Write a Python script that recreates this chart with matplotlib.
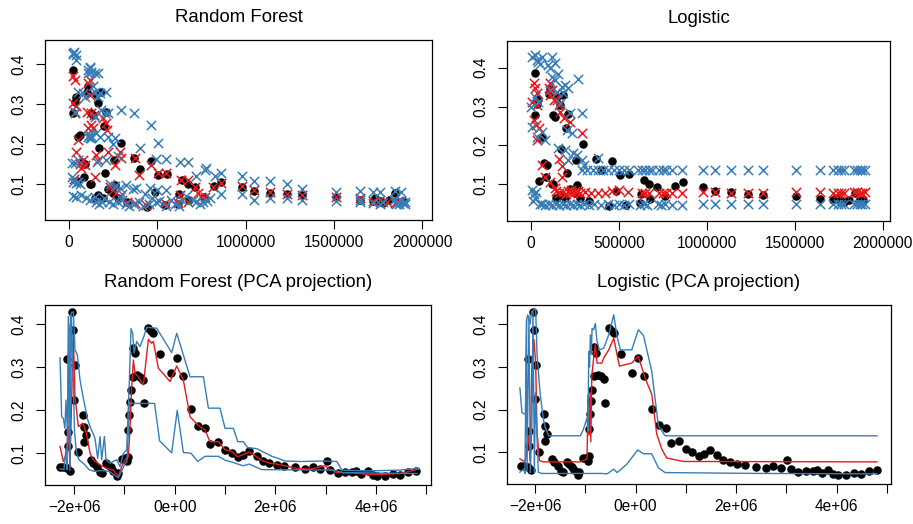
import matplotlib
matplotlib.use("Agg")
import matplotlib.pyplot as plt
import numpy as np

plt.rcParams['font.family'] = ['Liberation Sans', 'DejaVu Sans']

RED = '#E41A1C'
BLUE = '#377EB8'

# ---- top panels: observed error vs size (millions) ----
obs_size = [0.020, 0.022, 0.040, 0.036, 0.051, 0.060, 0.045, 0.085, 0.104, 0.110, 0.127, 0.117,
            0.164, 0.170, 0.198, 0.202, 0.208, 0.255, 0.293, 0.330, 0.368, 0.400, 0.463, 0.444,
            0.504, 0.557, 0.485, 0.542, 0.640, 0.674, 0.623, 0.618, 0.678, 0.716, 0.765, 0.820,
            0.863, 0.980, 1.045, 1.140, 1.235, 1.320, 1.510, 1.645, 1.720, 1.735, 1.760, 1.780,
            1.810, 1.845, 1.865, 1.890, 0.164, 0.193, 0.221, 0.249, 0.278, 0.127, 0.145, 0.075,
            0.090, 0.135, 0.150, 0.180, 0.260]
obs_err = [0.387, 0.278, 0.319, 0.306, 0.219, 0.223, 0.108, 0.119, 0.332, 0.346, 0.279, 0.102,
           0.303, 0.190, 0.246, 0.128, 0.282, 0.162, 0.204, 0.057, 0.165, 0.138, 0.159, 0.044,
           0.123, 0.127, 0.082, 0.048, 0.111, 0.101, 0.076, 0.052, 0.061, 0.094, 0.069, 0.096,
           0.105, 0.093, 0.083, 0.079, 0.075, 0.073, 0.069, 0.062, 0.059, 0.065, 0.059, 0.054,
           0.060, 0.078, 0.057, 0.059, 0.073, 0.065, 0.088, 0.078, 0.065, 0.101, 0.065, 0.155,
           0.150, 0.274, 0.325, 0.330, 0.098]

rf_pred_size = [0.023, 0.032, 0.023, 0.042, 0.032, 0.051, 0.042, 0.028, 0.079, 0.089, 0.108, 0.117,
                0.121, 0.127, 0.140, 0.127, 0.136, 0.155, 0.164, 0.193, 0.212, 0.217, 0.221, 0.259,
                0.287, 0.293, 0.372, 0.397, 0.463, 0.504, 0.551, 0.636, 0.674, 0.712, 0.769, 0.816,
                0.863, 0.980, 1.045, 1.140, 1.235, 1.320, 1.510, 1.645, 1.720, 1.760, 1.800, 1.845,
                1.865, 0.145, 0.230, 0.249, 0.268, 0.287, 0.330, 0.376, 0.438, 0.542, 0.618, 0.627,
                0.674, 0.731, 0.750, 0.060, 0.070, 0.100, 0.110]
rf_pred_err = [0.371, 0.362, 0.304, 0.296, 0.279, 0.211, 0.182, 0.113, 0.161, 0.148, 0.353, 0.361,
               0.323, 0.278, 0.273, 0.248, 0.240, 0.173, 0.161, 0.265, 0.253, 0.236, 0.182, 0.148,
               0.182, 0.165, 0.165, 0.123, 0.148, 0.128, 0.129, 0.111, 0.111, 0.094, 0.069, 0.094,
               0.103, 0.096, 0.086, 0.082, 0.076, 0.073, 0.069, 0.065, 0.059, 0.061, 0.057, 0.053,
               0.059, 0.119, 0.094, 0.086, 0.078, 0.069, 0.057, 0.053, 0.048, 0.053, 0.053, 0.073,
               0.057, 0.078, 0.069, 0.150, 0.140, 0.280, 0.240]

rf_band_size = [0.020, 0.030, 0.038, 0.042, 0.025, 0.108, 0.117, 0.127, 0.145, 0.164, 0.108, 0.120,
                0.051, 0.079, 0.145, 0.174, 0.212, 0.164, 0.089, 0.135, 0.202, 0.221, 0.293, 0.368,
                0.145, 0.032, 0.180, 0.108, 0.112, 0.117, 0.122, 0.127, 0.174, 0.155, 0.221, 0.259,
                0.463, 0.504, 0.400, 0.250, 0.032, 0.019, 0.050, 0.160, 0.210, 0.280, 0.495, 0.551,
                0.627, 0.674, 0.774, 0.770, 0.825, 0.863, 0.720, 0.980, 1.045, 1.140, 1.235, 1.320,
                1.510, 1.645, 1.720, 1.760, 1.845, 1.880, 0.017, 0.023, 0.042, 0.051, 0.023, 0.042,
                0.070, 0.060, 0.095, 0.120, 0.145, 0.155, 0.170, 0.185, 0.200, 0.225, 0.250, 0.275,
                0.300, 0.320, 0.340, 0.370, 0.395, 0.420, 0.450, 0.470, 0.490, 0.510, 0.550, 0.580,
                0.600, 0.625, 0.640, 0.660, 0.700, 0.720, 0.740, 0.760, 0.780, 0.800, 0.860, 0.980,
                1.045, 1.140, 1.235, 1.320, 1.510, 1.645, 1.645, 1.720, 1.760, 1.780, 1.840, 1.850,
                1.860, 1.870, 1.880, 1.890, 1.900, 1.900, 0.260, 0.290, 0.320, 0.360, 0.380, 0.430,
                0.460, 0.500, 0.550, 0.300, 0.230]
rf_band_err = [0.428, 0.430, 0.424, 0.411, 0.426, 0.386, 0.390, 0.382, 0.378, 0.378, 0.378, 0.393,
               0.332, 0.328, 0.332, 0.328, 0.332, 0.318, 0.319, 0.345, 0.278, 0.279, 0.286, 0.279,
               0.269, 0.282, 0.285, 0.219, 0.223, 0.215, 0.221, 0.217, 0.219, 0.228, 0.219, 0.217,
               0.248, 0.203, 0.190, 0.200, 0.153, 0.153, 0.160, 0.155, 0.160, 0.170, 0.163, 0.163,
               0.157, 0.157, 0.140, 0.135, 0.121, 0.128, 0.122, 0.122, 0.109, 0.109, 0.101, 0.088,
               0.082, 0.084, 0.082, 0.082, 0.083, 0.082, 0.119, 0.107, 0.103, 0.107, 0.070, 0.069,
               0.073, 0.100, 0.065, 0.060, 0.068, 0.056, 0.052, 0.056, 0.065, 0.056, 0.052, 0.056,
               0.060, 0.052, 0.045, 0.052, 0.055, 0.045, 0.050, 0.065, 0.055, 0.058, 0.045, 0.060,
               0.050, 0.045, 0.060, 0.072, 0.060, 0.055, 0.052, 0.055, 0.058, 0.065, 0.075, 0.075,
               0.061, 0.065, 0.065, 0.062, 0.059, 0.057, 0.062, 0.054, 0.052, 0.056, 0.060, 0.052,
               0.056, 0.050, 0.058, 0.053, 0.055, 0.050, 0.095, 0.090, 0.098, 0.088, 0.090, 0.075,
               0.092, 0.085, 0.085, 0.075, 0.100]

lg_pred_size = [0.015, 0.024, 0.032, 0.006, 0.034, 0.015, 0.030, 0.044, 0.034, 0.063, 0.082, 0.110,
                0.100, 0.120, 0.110, 0.129, 0.148, 0.157, 0.167, 0.186, 0.290, 0.224, 0.157, 0.176,
                0.176, 0.110, 0.138, 0.140, 0.160, 0.180, 0.200, 0.220, 0.240, 0.260, 0.280, 0.310,
                0.340, 0.380, 0.420, 0.460, 0.500, 0.550, 0.630, 0.650, 0.670, 0.730, 0.750, 0.770,
                0.800, 0.860, 0.980, 1.045, 1.140, 1.235, 1.320, 1.510, 1.645, 1.720, 1.745, 1.765,
                1.780, 1.840, 1.855, 1.870, 1.885, 1.900, 0.210, 0.230, 0.250, 0.270]
lg_pred_err = [0.360, 0.347, 0.334, 0.313, 0.304, 0.265, 0.253, 0.244, 0.214, 0.150, 0.120, 0.360,
               0.347, 0.343, 0.330, 0.317, 0.317, 0.304, 0.287, 0.270, 0.233, 0.261, 0.164, 0.147,
               0.120, 0.107, 0.090, 0.082, 0.078, 0.079, 0.076, 0.078, 0.077, 0.080, 0.077, 0.079,
               0.077, 0.078, 0.078, 0.082, 0.086, 0.080, 0.078, 0.078, 0.077, 0.078, 0.077, 0.078,
               0.078, 0.078, 0.079, 0.079, 0.078, 0.077, 0.077, 0.080, 0.079, 0.078, 0.078, 0.078,
               0.078, 0.079, 0.079, 0.078, 0.078, 0.079, 0.083, 0.085, 0.082, 0.083]

lg_band_size = [0.004, 0.023, 0.042, 0.032, 0.061, 0.050, 0.118, 0.099, 0.108, 0.136, 0.118, 0.136,
                0.155, 0.108, 0.174, 0.193, 0.212, 0.269, 0.165, 0.184, 0.146, 0.000, 0.023, 0.042,
                0.004, 0.032, 0.061, 0.080, 0.222, 0.288, 0.203, 0.231, 0.155, 0.193, 0.241, 0.260,
                0.212, 0.288, 0.383, 0.300,
                0.290, 0.320, 0.350, 0.380, 0.410, 0.440, 0.470, 0.500, 0.530, 0.560, 0.610, 0.630,
                0.650, 0.670, 0.690, 0.730, 0.750, 0.770, 0.800, 0.860, 0.980, 1.045, 1.140, 1.235,
                1.320, 1.510, 1.645, 1.720, 1.745, 1.765, 1.780, 1.840, 1.855, 1.870, 1.885, 1.900,
                0.004, 0.015, 0.025, 0.010, 0.030, 0.050, 0.060, 0.080, 0.100, 0.120, 0.140, 0.160,
                0.180, 0.200, 0.220, 0.240, 0.260, 0.280, 0.300, 0.330, 0.360, 0.400, 0.440, 0.470,
                0.500, 0.530, 0.560, 0.620, 0.640, 0.660, 0.720, 0.740, 0.760, 0.800, 0.860, 0.980,
                1.045, 1.140, 1.235, 1.320, 1.510, 1.645, 1.720, 1.745, 1.765, 1.780, 1.840, 1.855,
                1.870, 1.885, 1.900]
lg_band_err = [0.428, 0.433, 0.415, 0.420, 0.428, 0.410, 0.428, 0.407, 0.398, 0.411, 0.377, 0.368,
               0.385, 0.342, 0.351, 0.355, 0.347, 0.372, 0.308, 0.334, 0.338, 0.300, 0.325, 0.313,
               0.248, 0.223, 0.235, 0.214, 0.283, 0.284, 0.240, 0.231, 0.193, 0.188, 0.180, 0.175,
               0.163, 0.163, 0.167, 0.150,
               0.137, 0.137, 0.137, 0.137, 0.137, 0.137, 0.137, 0.137, 0.137, 0.137, 0.137, 0.137,
               0.137, 0.137, 0.137, 0.137, 0.137, 0.137, 0.137, 0.137, 0.137, 0.137, 0.137, 0.137,
               0.137, 0.137, 0.137, 0.137, 0.137, 0.137, 0.137, 0.137, 0.137, 0.137, 0.137, 0.137,
               0.085, 0.075, 0.065, 0.058, 0.080, 0.050, 0.050, 0.047, 0.049, 0.047, 0.050, 0.047,
               0.049, 0.047, 0.050, 0.047, 0.049, 0.047, 0.050, 0.047, 0.050, 0.047, 0.050, 0.048,
               0.050, 0.047, 0.050, 0.047, 0.050, 0.047, 0.050, 0.048, 0.050, 0.048, 0.048, 0.049,
               0.049, 0.049, 0.049, 0.049, 0.049, 0.049, 0.049, 0.049, 0.049, 0.049, 0.049, 0.049,
               0.049, 0.049, 0.049]

# ---- bottom panels: observed error vs PCA projection (millions) ----
pca_obs = [-2.278, -2.212, -2.146, -2.146, -2.113, -2.126, -2.079, -2.046, -2.013, -1.993, -1.980,
           -1.914, -1.828, -1.795, -1.762, -1.801, -1.669, -1.616, -1.550, -1.483, -1.450, -1.364,
           -1.318, -1.272, -1.219, -1.152, -1.119, -1.053, -0.987, -0.954, -0.921, -0.921, -0.901,
           -0.887, -0.868, -0.834, -0.821, -0.788, -0.755, -0.689, -0.636, -0.603, -0.523, -0.470,
           -0.424, -0.291, -0.073, 0.046, 0.172, 0.325, 0.457, 0.603, 0.702, 0.868, 1.000, 1.132,
           1.252, 1.364, 1.477, 1.629, 1.748, 1.874, 2.026, 2.179, 2.391, 2.589, 2.742, 2.887,
           3.020, 3.086, 3.238, 3.384, 3.530, 3.603, 3.702, 3.834, 3.930, 4.026, 4.180, 4.344,
           4.480, 4.642, 4.795]
pca_err = [0.068, 0.068, 0.065, 0.319, 0.150, 0.116, 0.060, 0.428, 0.387, 0.224, 0.305,
           0.102, 0.189, 0.162, 0.143, 0.127, 0.085, 0.077, 0.069, 0.057, 0.054, 0.077,
           0.073, 0.067, 0.060, 0.048, 0.054, 0.086, 0.088, 0.081, 0.092, 0.154, 0.189,
           0.220, 0.247, 0.278, 0.346, 0.333, 0.281, 0.278, 0.271, 0.216, 0.392, 0.384,
           0.379, 0.331, 0.286, 0.322, 0.280, 0.202, 0.164, 0.158, 0.122, 0.127, 0.108, 0.100,
           0.092, 0.096, 0.106, 0.094, 0.083, 0.078, 0.073, 0.071, 0.067, 0.064, 0.068, 0.063,
           0.083, 0.061, 0.054, 0.056, 0.056, 0.060, 0.051, 0.059, 0.050, 0.048, 0.048, 0.051,
           0.050, 0.056, 0.060]

rf_line_x = [-2.278, -2.212, -2.146, -2.113, -2.080, -2.046, -2.013, -1.980, -1.914, -1.828, -1.760,
             -1.680, -1.616, -1.483, -1.350, -1.219, -1.119, -1.053, -0.987, -0.920, -0.887, -0.854,
             -0.821, -0.788, -0.722, -0.622, -0.523, -0.457, -0.424, -0.325, -0.093, 0.040, 0.172,
             0.305, 0.457, 0.603, 0.702, 0.868, 1.000, 1.132, 1.252, 1.364, 1.477, 1.629, 1.760,
             1.894, 2.026, 2.180, 2.420, 2.689, 2.987, 3.053, 3.219, 3.550, 3.815, 4.146, 4.477,
             4.841]
rf_line_y = [0.116, 0.081, 0.100, 0.162, 0.069, 0.232, 0.375, 0.232, 0.162, 0.170, 0.150,
             0.100, 0.085, 0.073, 0.065, 0.061, 0.046, 0.069, 0.085, 0.092, 0.160, 0.255,
             0.317, 0.286, 0.278, 0.259, 0.365, 0.356, 0.360, 0.298, 0.267, 0.303, 0.270,
             0.185, 0.166, 0.154, 0.127, 0.127, 0.108, 0.104, 0.092, 0.097, 0.103, 0.092, 0.082,
             0.077, 0.075, 0.071, 0.065, 0.063, 0.071, 0.065, 0.055, 0.055, 0.051, 0.051, 0.053,
             0.063]

rf_hi_x = [-2.278, -2.245, -2.212, -2.180, -2.160, -2.130, -2.113, -2.090, -2.070, -2.046, -2.013,
           -1.980, -1.934, -1.880, -1.815, -1.728, -1.680, -1.583, -1.530, -1.483, -1.450, -1.397,
           -1.364, -1.285, -1.152, -1.086, -1.020, -0.954, -0.900, -0.868, -0.834, -0.808, -0.755,
           -0.689, -0.603, -0.556, -0.358, -0.060, 0.040, 0.305, 0.570, 0.669, 0.900, 1.000, 1.166,
           1.252, 1.364, 1.450, 1.629, 1.740, 1.850, 1.930, 2.060, 2.190, 2.490, 2.950, 3.219,
           3.318, 3.815, 4.477, 4.841]
rf_hi_y = [0.322, 0.185, 0.181, 0.158, 0.224, 0.150, 0.418, 0.100, 0.420, 0.428, 0.429,
           0.340, 0.329, 0.270, 0.228, 0.178, 0.162, 0.135, 0.088, 0.139, 0.085, 0.139,
           0.085, 0.077, 0.085, 0.069, 0.100, 0.108, 0.270, 0.390, 0.379, 0.333, 0.360,
           0.348, 0.375, 0.393, 0.391, 0.334, 0.379, 0.278, 0.278, 0.205, 0.205, 0.158, 0.158,
           0.127, 0.127, 0.113, 0.111, 0.104, 0.098, 0.093, 0.088, 0.082, 0.081, 0.082, 0.081,
           0.061, 0.059, 0.061, 0.065]

rf_lo_x = [-2.278, -2.200, -2.160, -2.140, -2.100, -2.080, -2.050, -2.020, -1.990, -1.950, -1.900,
           -1.800, -1.700, -1.600, -1.450, -1.300, -1.200, -1.120, -1.050, -0.990, -0.950, -0.920,
           -0.900, -0.880, -0.400, -0.300, -0.060, 0.050, 0.172, 0.325, 0.457, 0.603, 0.868, 1.000,
           1.132, 1.252, 1.364, 1.477, 1.728, 3.152, 3.351, 4.808]
rf_lo_y = [0.064, 0.062, 0.110, 0.062, 0.400, 0.060, 0.420, 0.300, 0.150, 0.100, 0.085,
           0.075, 0.062, 0.058, 0.060, 0.058, 0.050, 0.043, 0.060, 0.075, 0.080, 0.150,
           0.220, 0.216, 0.216, 0.129, 0.101, 0.200, 0.102, 0.100, 0.081, 0.093, 0.093, 0.084,
           0.080, 0.075, 0.071, 0.075, 0.062, 0.061, 0.055, 0.053]

lg_line_x = [-2.300, -2.230, -2.190, -2.160, -2.126, -2.100, -2.060, -2.020, -1.987, -1.960, -1.914,
             -1.834, -1.098, -0.965, -0.945, -0.925, -0.905, -0.890, -0.870, -0.833, -0.800, -0.766,
             -0.673, -0.633, -0.534, -0.434, -0.322, -0.076, 0.056, 0.189, 0.322, 0.421, 0.521,
             0.620, 0.952, 4.800]
lg_line_y = [0.085, 0.080, 0.081, 0.110, 0.139, 0.082, 0.313, 0.364, 0.309, 0.150, 0.081,
             0.078, 0.078, 0.085, 0.235, 0.140, 0.240, 0.125, 0.280, 0.321, 0.352, 0.309,
             0.309, 0.321, 0.340, 0.367, 0.302, 0.309, 0.325, 0.274, 0.236, 0.143, 0.108,
             0.087, 0.079, 0.078]

lg_hi_x = [-2.300, -2.260, -2.190, -2.166, -2.146, -2.100, -2.066, -2.013, -1.987, -1.960, -1.900,
           -1.834, -1.794, -1.728, -1.098, -1.038, -0.965, -0.945, -0.932, -0.915, -0.899, -0.880,
           -0.865, -0.833, -0.800, -0.766, -0.720, -0.633, -0.534, -0.434, -0.368, -0.302, -0.076,
           0.056, 0.156, 0.322, 0.454, 0.587, 4.800]
lg_hi_y = [0.251, 0.193, 0.189, 0.410, 0.422, 0.400, 0.429, 0.436, 0.435, 0.330, 0.240,
           0.178, 0.158, 0.139, 0.139, 0.154, 0.181, 0.150, 0.336, 0.300, 0.375, 0.330,
           0.390, 0.387, 0.402, 0.360, 0.340, 0.344, 0.375, 0.422, 0.371, 0.340, 0.340,
           0.387, 0.374, 0.290, 0.162, 0.139, 0.139]

lg_lo_x = [-2.300, -2.225, -2.200, -2.170, -2.159, -2.120, -2.093, -2.060, -2.040, -2.013, -1.990,
           -1.960, -1.934, -1.867, -0.673, -0.567, -0.434, -0.368, -0.170, 0.043, 0.156, 0.322,
           0.454, 0.587, 2.478, 4.800]
lg_lo_y = [0.054, 0.061, 0.051, 0.410, 0.057, 0.420, 0.053, 0.181, 0.430, 0.053, 0.240,
           0.135, 0.054, 0.051, 0.051, 0.050, 0.061, 0.053, 0.073, 0.106, 0.097, 0.097,
           0.064, 0.053, 0.051, 0.050]

top_xticks = [0, 500000, 1000000, 1500000, 2000000]
top_xlabels = ['0', '500000', '1000000', '1500000', '2000000']
pca_xticks = [-2e6, -1e6, 0, 1e6, 2e6, 3e6, 4e6, 5e6]
pca_xlabels = ['\u22122e+06', '', '0e+00', '', '2e+06', '', '4e+06', '']
yticks = [0.1, 0.2, 0.3, 0.4]
ylabels = ['0.1', '0.2', '0.3', '0.4']

M = 1e6
W, H = 913, 524
fig = plt.figure(figsize=(W / 100, H / 100), dpi=100)


def box(l, t, r, b):
    return fig.add_axes([l / W, 1 - b / H, (r - l) / W, (b - t) / H])


def style(ax, title, xticks, xlabels, xlim, ylim):
    ax.set_xlim(*xlim)
    ax.set_ylim(*ylim)
    ax.set_xticks(xticks)
    ax.set_xticklabels(xlabels)
    ax.set_yticks(yticks)
    ax.set_yticklabels(ylabels, rotation=90, va='center')
    ax.tick_params(direction='out', length=6.7, width=0.8, labelsize=11.2, colors='black')
    ax.tick_params(axis='x', pad=4.4)
    ax.tick_params(axis='y', pad=7)
    for s in ax.spines.values():
        s.set_linewidth(0.9)
    ax.set_title(title, fontsize=13.4, pad=13)


ax1 = box(45, 40, 432, 220)
ax1.scatter(np.array(obs_size) * M, obs_err, s=26, color='black', zorder=2)
ax1.scatter(np.array(rf_pred_size) * M, rf_pred_err, s=45, marker='x', color=RED, linewidths=1.1, zorder=3)
ax1.scatter(np.array(rf_band_size) * M, rf_band_err, s=45, marker='x', color=BLUE, linewidths=1.1, zorder=4)
style(ax1, 'Random Forest', top_xticks, top_xlabels, (-136000, 2055000), (0.011, 0.461))

ax2 = box(507, 41, 890, 221)
ax2.scatter(np.array(obs_size) * M, obs_err, s=26, color='black', zorder=2)
ax2.scatter(np.array(lg_pred_size) * M, lg_pred_err, s=45, marker='x', color=RED, linewidths=1.1, zorder=3)
ax2.scatter(np.array(lg_band_size) * M, lg_band_err, s=45, marker='x', color=BLUE, linewidths=1.1, zorder=4)
style(ax2, 'Logistic', top_xticks, top_xlabels, (-136500, 2042000), (0.0057, 0.4686))

ax3 = box(45, 305, 431, 485)
ax3.scatter(np.array(pca_obs) * M, pca_err, s=26, color='black', zorder=2)
ax3.plot(np.array(rf_line_x) * M, rf_line_y, color=RED, lw=1.0, zorder=3)
ax3.plot(np.array(rf_hi_x) * M, rf_hi_y, color=BLUE, lw=1.0, zorder=4)
ax3.plot(np.array(rf_lo_x) * M, rf_lo_y, color=BLUE, lw=1.0, zorder=4)
style(ax3, 'Random Forest (PCA projection)', pca_xticks, pca_xlabels, (-2.576e6, 5.09e6), (0.0263, 0.4449))

ax4 = box(507, 305, 891, 484)
ax4.scatter(np.array(pca_obs) * M, pca_err, s=26, color='black', zorder=2)
ax4.plot(np.array(lg_line_x) * M, lg_line_y, color=RED, lw=1.0, zorder=3)
ax4.plot(np.array(lg_hi_x) * M, lg_hi_y, color=BLUE, lw=1.0, zorder=4)
ax4.plot(np.array(lg_lo_x) * M, lg_lo_y, color=BLUE, lw=1.0, zorder=4)
style(ax4, 'Logistic (PCA projection)', pca_xticks, pca_xlabels, (-2.557e6, 5.08e6), (0.0263, 0.4449))

fig.savefig('out.png', dpi=100)
